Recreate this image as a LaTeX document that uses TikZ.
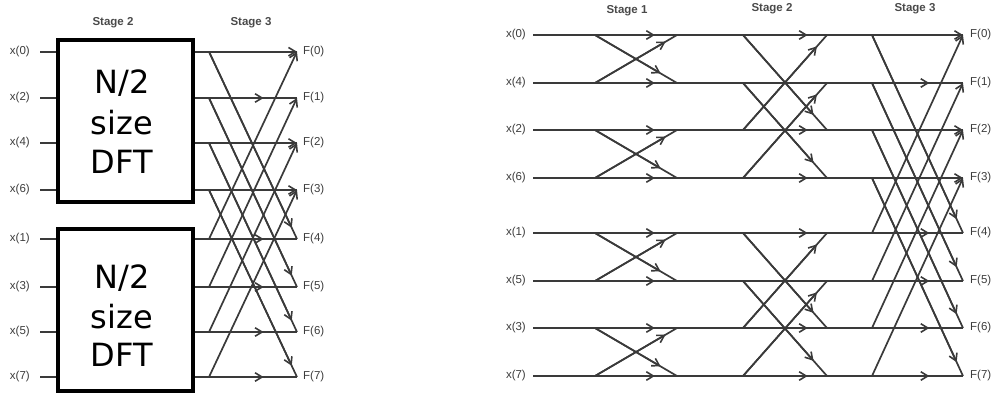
\documentclass[tikz,border=0pt]{standalone}
\usepackage{fontspec}
\setmainfont{Liberation Sans}
\newfontfamily\dejavu{DejaVu Sans}
\usetikzlibrary{arrows.meta,calc}
\definecolor{ln}{HTML}{3A3A3A}
\definecolor{tx}{HTML}{3C3C3C}
\definecolor{st}{HTML}{4A4A4A}
\begin{document}
\begin{tikzpicture}[x=1pt,y=-1pt,
  wire/.style={draw=ln, line width=1.7pt},
  arr/.style={draw=ln, line width=1.7pt, -{Straight Barb[length=7pt,width=8.5pt,line width=1.6pt]}},
  lbl/.style={text=tx, font=\fontsize{11.5}{12}\selectfont, inner sep=0pt},
  stg/.style={text=st, font=\bfseries\fontsize{11.5}{12}\selectfont, inner sep=0pt},
  dft/.style={draw=black, fill=white, line width=3.3pt, minimum width=135pt, minimum height=162pt, inner sep=0pt},
  big/.style={anchor=base, inner sep=0pt, font=\dejavu\fontsize{32}{40}\selectfont}]
\useasboundingbox (0,0) rectangle (993,394);

% ---------------- left diagram ----------------
\node[stg] (ls2) at (113,23) {Stage 2};
\node[stg] (ls3) at (251,23) {Stage 3};
\foreach \y/\l [count=\i from 0] in {51.7/x(0),98/x(2),143/x(4),190/x(6),239/x(1),287/x(3),332/x(5),377/x(7)} {
  \node[lbl, anchor=east] (lx\i) at (30,\y) {\l};
  \coordinate (LI\i) at (40,\y);
  \coordinate (LB\i) at (58,\y);
  \coordinate (LA\i) at (193,\y);
  \coordinate (LS\i) at (209,\y);
  \coordinate (LE\i) at (297,\y);
  \node[lbl, anchor=west] (lf\i) at (303,\y) {F(\i)};
  \draw[wire] (LI\i) -- (LB\i);
  \draw[wire] (LA\i) -- (LE\i);
}
\foreach \i in {0,2,3} { \draw[arr] (LS\i) -- (LE\i); }
\foreach \i in {1,4,5,6,7} { \draw[arr] (LS\i) -- ($(LS\i)!0.62!(LE\i)$); }
\foreach \i/\j in {0/4,1/5,2/6,3/7} {
  \draw[wire] (LS\i) -- (LE\j);
  \draw[arr] (LS\i) -- ($(LS\i)!0.94!(LE\j)$);
  \draw[arr] (LS\j) -- (LE\i);
}
\node[dft] (box1) at (125.5,121) {};
\node[dft] (box2) at (125.5,310) {};
\node[big] (t1a) at (122,93) {N/2};
\node[big] (t1b) at (122,134) {size};
\node[big] (t1c) at (122,173) {DFT};
\node[big] (t2a) at (122,288) {N/2};
\node[big] (t2b) at (122,328) {size};
\node[big] (t2c) at (122,366) {DFT};

% ---------------- right diagram ----------------
\node[stg] (rs1) at (627,11) {Stage 1};
\node[stg] (rs2) at (772,9) {Stage 2};
\node[stg] (rs3) at (915,9) {Stage 3};
\foreach \y/\l [count=\i from 0] in {35/x(0),83/x(4),130/x(2),178/x(6),233/x(1),281/x(5),328/x(3),376/x(7)} {
  \node[lbl, anchor=east] (rx\i) at (526,\y) {\l};
  \coordinate (RI\i) at (533,\y);
  \coordinate (RA\i) at (595,\y);
  \coordinate (RB\i) at (677,\y);
  \coordinate (RC\i) at (743,\y);
  \coordinate (RD\i) at (827,\y);
  \coordinate (RS\i) at (872,\y);
  \coordinate (RE\i) at (963,\y);
  \node[lbl, anchor=west] (rf\i) at (970,\y) {F(\i)};
  \draw[wire] (RI\i) -- (RE\i);
  \draw[arr] (RA\i) -- ($(RA\i)!0.73!(RB\i)$);
}
% stage 1
\foreach \i/\j in {0/1,2/3,4/5,6/7} {
  \draw[wire] (RA\i) -- (RB\j);
  \draw[arr] (RA\i) -- ($(RA\i)!0.8!(RB\j)$);
  \draw[wire] (RA\j) -- (RB\i);
  \draw[arr] (RA\j) -- ($(RA\j)!0.86!(RB\i)$);
}
% stage 2
\foreach \i in {0,2,3,4,6,7} { \draw[arr] (RC\i) -- ($(RC\i)!0.77!(RD\i)$); }
\foreach \i/\j in {0/2,1/3,4/6,5/7} {
  \draw[wire] (RC\i) -- (RD\j);
  \draw[arr] (RC\i) -- ($(RC\i)!0.84!(RD\j)$);
  \draw[wire] (RC\j) -- (RD\i);
  \draw[arr] (RC\j) -- ($(RC\j)!0.88!(RD\i)$);
}
% stage 3
\foreach \i in {0,2,3} { \draw[arr] (RS\i) -- (RE\i); }
\foreach \i in {1,4,5,6,7} { \draw[arr] (RS\i) -- ($(RS\i)!0.63!(RE\i)$); }
\foreach \i/\j in {0/4,1/5,2/6,3/7} {
  \draw[wire] (RS\i) -- (RE\j);
  \draw[arr] (RS\i) -- ($(RS\i)!0.93!(RE\j)$);
  \draw[arr] (RS\j) -- (RE\i);
}
\end{tikzpicture}
\end{document}
